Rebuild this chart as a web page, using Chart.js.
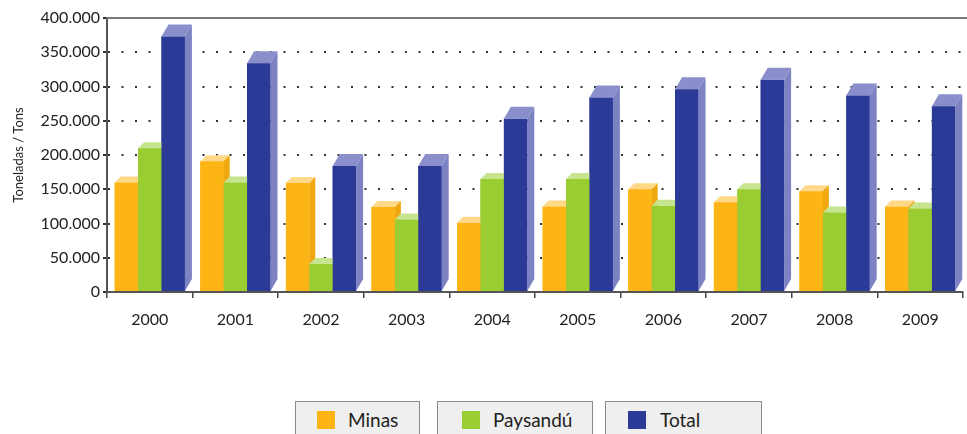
<!DOCTYPE html>
<html>
<head>
<meta charset="utf-8">
<script src="https://cdn.jsdelivr.net/npm/chart.js@4"></script>
<style>
  body { margin: 0; background: #fff; font-family: Lato, sans-serif; }
  #wrap { position: absolute; left: 0; top: 0; width: 967px; height: 340px; }
  .leg { position: absolute; top: 401px; height: 40px; background: #efefef;
         border: 1.5px solid #8a8a8a; box-sizing: border-box; color: #222; font-size: 19px; }
  .leg i { position: absolute; top: 9px; width: 18px; height: 18px; }
  .leg span { position: absolute; top: 6px; }
</style>
</head>
<body>
<div id="wrap"><canvas id="myChart"></canvas></div>
<div class="leg" style="left:295px;width:125px"><i style="left:21px;background:#fdb515"></i><span style="left:52px">Minas</span></div>
<div class="leg" style="left:437px;width:156px"><i style="left:24px;background:#9acd32"></i><span style="left:55px">Paysandú</span></div>
<div class="leg" style="left:605px;width:157px"><i style="left:22px;background:#2a3a96"></i><span style="left:54px">Total</span></div>
<script>
var years = ['2000', '2001', '2002', '2003', '2004', '2005', '2006', '2007', '2008', '2009'];
var minas = [160000, 191000, 159000, 124000, 101000, 125000, 150000, 131000, 147000, 125000];
var paysandu = [210000, 160000, 41000, 106000, 165000, 165000, 126000, 150000, 116000, 122000];
var total = [373000, 334000, 184000, 184000, 253000, 284000, 296000, 310000, 287000, 271000];

// redraw the bars left to right, each with a top and side face, so they look like boxes
var bars3d = {
  id: 'bars3d',
  beforeDatasetsDraw: function(chart) {
    var a = chart.chartArea, ctx = chart.ctx;
    ctx.save();
    ctx.strokeStyle = '#7a7a7a';
    ctx.lineWidth = 2;
    ctx.beginPath();
    ctx.moveTo(a.left, a.top);
    ctx.lineTo(chart.width, a.top);
    ctx.stroke();
    ctx.restore();
  },
  afterDatasetsDraw: function(chart) {
    var ctx = chart.ctx;
    chart.data.datasets.forEach(function(ds, i) {
      var meta = chart.getDatasetMeta(i);
      meta.data.forEach(function(bar) {
        bar.draw(ctx);
        var p = bar.getProps(['x', 'y', 'base', 'width'], true);
        var l = p.x - p.width / 2, r = p.x + p.width / 2;
        var dx = ds.depthX, dy = ds.depthY;
        ctx.save();
        ctx.fillStyle = ds.capColor;
        ctx.beginPath();
        ctx.moveTo(l, p.y);
        ctx.lineTo(l + dx, p.y - dy);
        ctx.lineTo(r + dx, p.y - dy);
        ctx.lineTo(r, p.y);
        ctx.closePath();
        ctx.fill();
        ctx.fillStyle = ds.sideColor;
        ctx.beginPath();
        ctx.moveTo(r, p.y);
        ctx.lineTo(r + dx, p.y - dy);
        ctx.lineTo(r + dx, p.base - dy);
        ctx.lineTo(r, p.base);
        ctx.closePath();
        ctx.fill();
        ctx.restore();
      });
    });
  }
};

var ctx = document.getElementById('myChart').getContext('2d');
var myChart = new Chart(ctx, {
    type: 'bar',
    data: {
        labels: years,
        datasets: [{
            label: 'Minas',
            data: minas,
            backgroundColor: '#fdb515',
            capColor: '#ffd888',
            sideColor: '#f0a810',
            depthX: 6, depthY: 6
        }, {
            label: 'Paysandú',
            data: paysandu,
            backgroundColor: '#9acd32',
            capColor: '#c6e58e',
            sideColor: '#8cbf2a',
            depthX: 6, depthY: 6
        }, {
            label: 'Total',
            data: total,
            backgroundColor: '#2a3a96',
            capColor: '#8a8fcc',
            sideColor: '#7d82c2',
            depthX: 7, depthY: 12
        }]
    },
    options: {
        responsive: true,
        maintainAspectRatio: false,
        animation: false,
        layout: { padding: { top: 18, right: 4, left: 0, bottom: 0 } },
        plugins: { legend: { display: false }, tooltip: { enabled: false } },
        datasets: { bar: { categoryPercentage: 0.82, barPercentage: 1.0 } },
        scales: {
            x: {
                afterFit: function(s) { s.height = 48; },
                grid: { drawOnChartArea: false, offset: true, tickLength: 6, color: '#444', lineWidth: 1.5 },
                border: { display: true, color: '#555', width: 2 },
                ticks: { color: '#222', padding: 12, font: { family: 'Lato', size: 16 } }
            },
            y: {
                min: 0, max: 400000,
                afterFit: function(s) { s.width = 107; },
                grid: {
                    color: function(c) { return (c.tick.value === 0 || c.tick.value === 400000) ? 'rgba(0,0,0,0)' : '#333'; },
                    lineWidth: 2,
                    tickColor: '#333',
                    tickBorderDash: [],
                    tickLength: 4
                },
                border: { display: true, color: '#555', width: 2, dash: [2, 11.5] },
                ticks: {
                    stepSize: 50000,
                    color: '#222',
                    padding: 3,
                    font: { family: 'Lato', size: 16 },
                    callback: function(v) { return v === 0 ? '0' : (v / 1000) + '.000'; }
                },
                title: {
                    display: true,
                    text: 'Toneladas / Tons',
                    color: '#222',
                    font: { family: 'Lato', size: 13 },
                    padding: { top: 11, bottom: 0 }
                }
            }
        }
    },
    plugins: [bars3d]
});
</script>
</body>
</html>
